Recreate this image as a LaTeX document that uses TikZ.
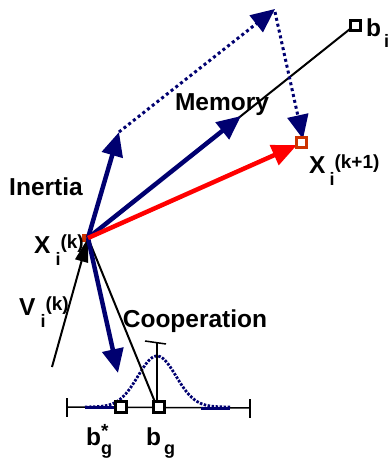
\documentclass[tikz,border=0pt]{standalone}
\usepackage{fontspec}
\setmainfont{Liberation Sans}
\usetikzlibrary{arrows.meta,calc}
\definecolor{navy}{RGB}{0,0,112}
\definecolor{rsq}{RGB}{204,51,0}
\newcommand{\lsub}[2][-12pt]{\raisebox{#1}{\fontsize{18}{18}\selectfont #2}}
\newcommand{\lsup}[2][5pt]{\raisebox{#1}{\fontsize{19}{19}\selectfont #2}}
\begin{document}
\begin{tikzpicture}[x=1pt,y=-1pt,
  every node/.style={font=\bfseries\fontsize{24.5}{27}\selectfont, inner sep=0pt},
  navyarrow/.style={draw=navy, line width=4.5pt, -{Triangle[length=24pt,width=21pt]}, fill=navy},
  redarrow/.style={draw=red, line width=4.5pt, -{Triangle[length=25pt,width=21pt]}, fill=red},
  dotarrow/.style={draw=navy, line width=3pt, dash pattern=on 3pt off 3pt, -{Triangle[length=24pt,width=21pt,fill=navy]}},
  thinline/.style={draw=black, line width=2pt},
  sqbox/.style={draw, line width=3pt, fill=white, rectangle},
  gauss/.style={draw=navy, line width=2.8pt, dash pattern=on 2.5pt off 1.5pt}
]
\useasboundingbox (0,0) rectangle (388,458);

% key points
\coordinate (X) at (88,238);
\coordinate (I) at (119,132);
\coordinate (T) at (275,9);
\coordinate (Ts) at (275,12);
\coordinate (M) at (241,116);
\coordinate (R) at (297,145);
\coordinate (D) at (303,139);
\coordinate (C) at (118,373);
\coordinate (V) at (52,367);
\coordinate (BI) at (355,25);
\coordinate (BG) at (159,407);
\coordinate (BS) at (121,407);
\coordinate (AL) at (67,407);
\coordinate (AR) at (250,408);
\coordinate (VB) at (157,407);
\coordinate (VT) at (157,342);

% small square at X_i^(k)
\node[draw=rsq, fill=rsq, minimum size=7pt, rectangle] (xsq) at (86,238) {};

% axis with end ticks
\draw[line width=1.5pt] (AL) -- (AR);
\draw[line width=1.5pt] ($(AL)+(0,-9)$) -- ($(AL)+(0,10)$);
\draw[line width=1.5pt] ($(AR)+(0,-9)$) -- ($(AR)+(0,10)$);

% gaussian
\draw[gauss] plot[domain=85:230,samples=120,smooth] (\x,{407-51*exp(0-((\x-157)^2)/722)});
\draw[navy, line width=3pt] (85,407) -- (114,407);
\draw[navy, line width=3pt] (201,408) -- (230,408);

% vertical line at b_g with top bar
\draw[thinline] (VB) -- (VT);
\draw[line width=1.5pt] (145,341) -- (166,344);

% black thin lines
\draw[thinline] (X) -- (BI);
\draw[thinline] (X) -- (VB);
\draw[thinline, -{Triangle[length=24pt,width=13pt]}] (V) -- (X);

% navy arrows
\draw[navyarrow] (X) -- (I);
\draw[navyarrow] (X) -- (M);
\draw[navyarrow] (X) -- (C);
\draw[redarrow] (X) -- (R);

% dotted arrows
\draw[dotarrow] (I) -- (T);
\draw[dotarrow] (Ts) -- (D);

% squares
\node[sqbox, minimum size=10pt] (bi) at (BI) {};
\node[sqbox, minimum size=11pt] (bs) at (BS) {};
\node[sqbox, minimum size=11pt] (bg) at (BG) {};
\node[sqbox, draw=rsq, minimum size=10pt] (xk1) at (301,142) {};

% labels
\node[anchor=base] (mem) at (222,110) {Memory};
\node[anchor=base] (ine) at (46,195) {Inertia};
\node[anchor=base] (coop) at (195,327) {Cooperation};
\node[anchor=base west] (lxk) at (34,253) {X\hspace{5pt}\lsub{i}\lsup{(k)}};
\node[anchor=base west] (lvk) at (19,315) {V\hspace{5pt}\lsub{i}\lsup{(k)}};
\node[anchor=base west] (lxk1) at (309,173) {X\hspace{4pt}\lsub{i}\lsup{(k+1)}};
\node[anchor=base west] (lbi) at (366,36) {b\hspace{3pt}\lsub[-11pt]{i}};
\node[anchor=base west] (lbs) at (86,445) {b\rlap{\lsup[8pt]{*}}\lsub[-9pt]{g}};
\node[anchor=base west] (lbg) at (146,445) {b\hspace{3pt}\lsub[-9pt]{g}};
\end{tikzpicture}
\end{document}
